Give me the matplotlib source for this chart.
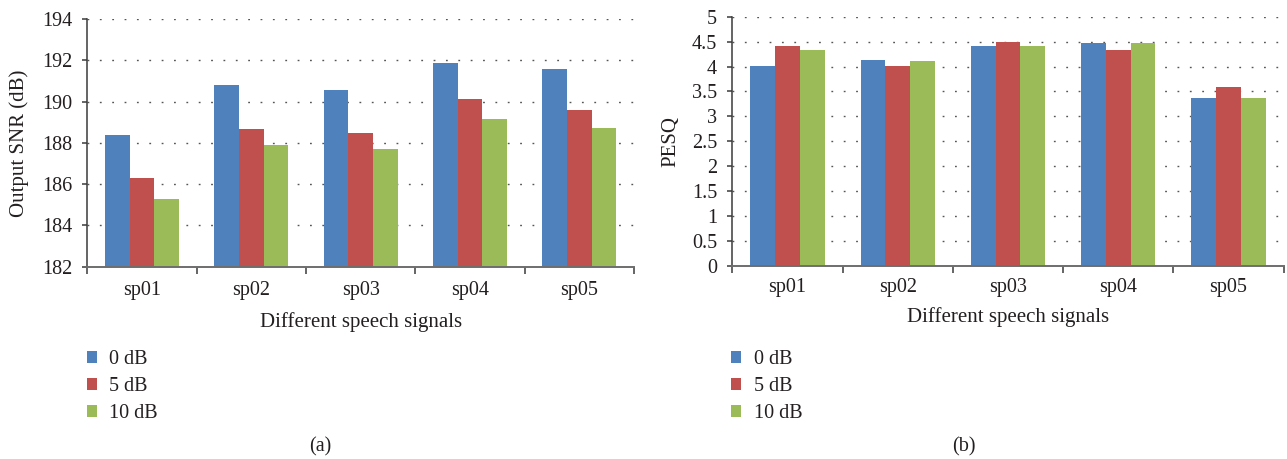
import matplotlib
matplotlib.use('Agg')
import matplotlib.pyplot as plt
from matplotlib.patches import Patch
import numpy as np

# ---- data ----
categories = ['sp01', 'sp02', 'sp03', 'sp04', 'sp05']
series_labels = ['0 dB', '5 dB', '10 dB']

snr_0db = [188.40, 190.80, 190.56, 191.87, 191.58]
snr_5db = [186.32, 188.68, 188.48, 190.13, 189.60]
snr_10db = [185.30, 187.90, 187.70, 189.16, 188.72]

pesq_0db = [4.01, 4.13, 4.41, 4.48, 3.37]
pesq_5db = [4.41, 4.01, 4.49, 4.33, 3.59]
pesq_10db = [4.33, 4.11, 4.41, 4.48, 3.37]

snr_ticks = [182, 184, 186, 188, 190, 192, 194]
pesq_ticks = [0, 0.5, 1, 1.5, 2, 2.5, 3, 3.5, 4, 4.5, 5]
pesq_tick_labels = ['0', '0.5', '1', '1.5', '2', '2.5', '3', '3.5', '4', '4.5', '5']

colors = ['#4F81BD', '#C0504D', '#9BBB59']
TXT = '#231F20'

plt.rcParams['font.family'] = ['Liberation Serif', 'DejaVu Serif']
plt.rcParams['font.size'] = 14

W, H = 1287, 459
fig = plt.figure(figsize=(W / 100, H / 100), dpi=100)


def px_axes(left, right, top, bottom):
    return fig.add_axes([left / W, 1 - bottom / H, (right - left) / W, (bottom - top) / H])


def draw_panel(ax, series, ticks, tick_labels, ylim, ylabel, ylabel_x, xlabel_y, xpad):
    n = len(categories)
    x = np.arange(n) + 0.5
    bw = 0.225
    for j, vals in enumerate(series):
        ax.bar(x + (j - 1) * bw, np.array(vals) - ylim[0], bw, bottom=ylim[0],
               color=colors[j], linewidth=0, zorder=2, label=series_labels[j])
    ax.set_xlim(0, n)
    ax.set_ylim(*ylim)
    ax.set_yticks(ticks)
    ax.set_yticklabels(tick_labels)
    ax.set_xticks(x)
    ax.set_xticklabels(categories)
    ax.set_xticks(np.arange(n + 1), minor=True)
    ax.tick_params(axis='x', which='major', length=0, pad=xpad, labelsize=14.5, labelcolor=TXT)
    ax.tick_params(axis='x', which='minor', length=5, width=1.1, direction='out', color='#3a3a3a')
    ax.tick_params(axis='y', length=3.8, width=1.1, direction='out', pad=7.2,
                   labelsize=14.5, labelcolor=TXT, color='#3a3a3a')
    for s in ['top', 'right']:
        ax.spines[s].set_visible(False)
    ax.spines['left'].set_color('#3a3a3a')
    ax.spines['left'].set_linewidth(1.1)
    ax.spines['bottom'].set_color('#6e6e6e')
    ax.spines['bottom'].set_linewidth(1.4)
    ax.set_axisbelow(True)
    ax.yaxis.grid(True, linestyle=(0, (1.3, 7.6)), color='#555555', linewidth=1.0)
    ax.set_ylabel(ylabel, fontsize=15, color=TXT)
    ax.yaxis.label.set_verticalalignment('center')
    ax.yaxis.set_label_coords(ylabel_x, 0.5)
    ax.set_xlabel('Different speech signals', fontsize=15, color=TXT)
    ax.xaxis.label.set_verticalalignment('center')
    ax.xaxis.set_label_coords(0.5, xlabel_y)


# left panel
axL = px_axes(87.3, 634.0, 19.0, 266.7)
draw_panel(axL, [snr_0db, snr_5db, snr_10db], snr_ticks, [str(t) for t in snr_ticks],
           (182, 194), 'Output SNR (dB)', (19.5 - 87.3) / 546.7, (266.7 - 322.0) / 247.7, 10.0)

# right panel
axR = px_axes(732.3, 1283.7, 16.7, 265.7)
draw_panel(axR, [pesq_0db, pesq_5db, pesq_10db], pesq_ticks, pesq_tick_labels,
           (0, 5), 'PESQ', (670.6 - 732.3) / 551.4, (265.7 - 317.0) / 249.0, 9.0)

# legends
handles = [Patch(facecolor=c, edgecolor='none') for c in colors]
for xpx in (86.5, 731.0):
    fig.legend(handles, series_labels, loc='upper left',
               bbox_to_anchor=(xpx / W, 1 - 350.5 / H), bbox_transform=fig.transFigure,
               frameon=False, fontsize=14.5, labelcolor=TXT,
               handlelength=0.52, handleheight=0.52, handletextpad=0.6,
               labelspacing=0.38, borderpad=0, borderaxespad=0)

# captions
fig.text(320 / W, 1 - 446.5 / H, '(a)', ha='center', va='center', fontsize=14.5, color=TXT)
fig.text(964 / W, 1 - 446.5 / H, '(b)', ha='center', va='center', fontsize=14.5, color=TXT)

fig.savefig('out.png', dpi=100)
